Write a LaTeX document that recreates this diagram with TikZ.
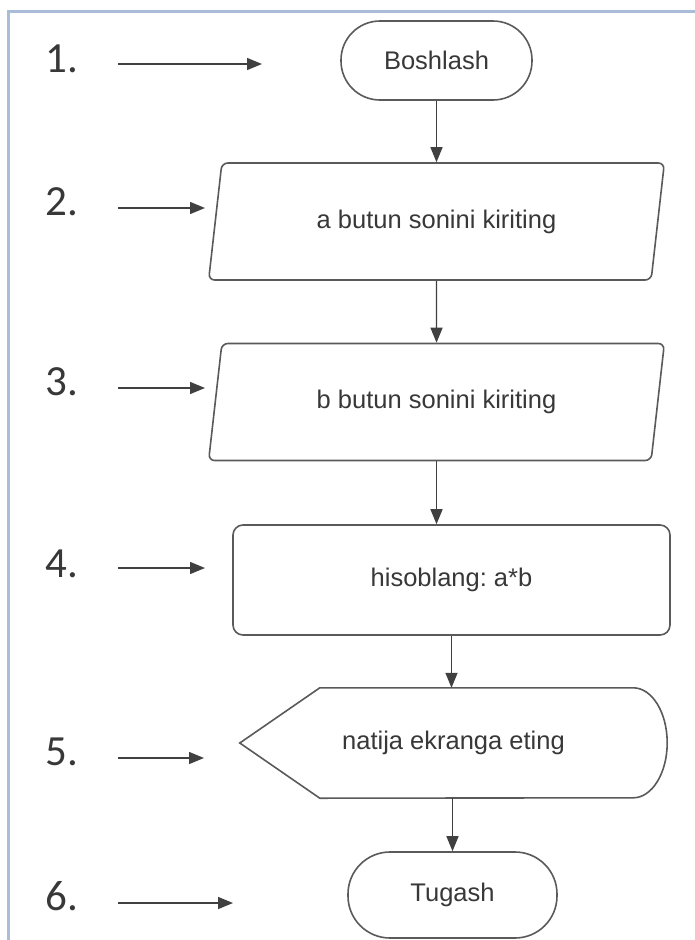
\documentclass[tikz,border=0pt]{standalone}
\usepackage{fontspec}
\setmainfont{Liberation Sans}
\newfontfamily\numfont{Carlito}
\usetikzlibrary{shapes.geometric,arrows.meta}
\frenchspacing

\definecolor{edgegray}{HTML}{5A5A5A}
\definecolor{textgray}{HTML}{383838}
\definecolor{framebl}{HTML}{A9BDD8}

\tikzset{
  flowtext/.style={font=\fontsize{25.5}{30}\selectfont, text=textgray},
  shapeline/.style={draw=edgegray, line width=1.6pt},
  terminal/.style={flowtext, shapeline, rounded corners=39pt, minimum width=191pt, minimum height=79pt},
  inputbox/.style={flowtext, shapeline, trapezium, trapezium left angle=76, trapezium right angle=104,
    trapezium stretches=true, rounded corners=6pt, minimum width=457pt, minimum height=117pt},
  processbox/.style={flowtext, shapeline, rounded corners=10pt, minimum width=437pt, minimum height=110pt},
  stepnum/.style={font=\numfont\fontsize{43}{48}\selectfont, text=textgray, anchor=base west, inner sep=0pt},
  flow/.style={-{Triangle[length=15pt,width=12pt]}, line width=1.4pt, draw=black!75},
}

\begin{document}
\begin{tikzpicture}[x=1pt, y=-1pt]
  \useasboundingbox (0,0) rectangle (694,940);
  \fill[white] (0,0) rectangle (694,940);
  \draw[framebl, line width=3pt] (8,950) -- (8,11) -- (700,11);

  % step numbers and their pointers
  \foreach \n/\b in {1/72, 2/215, 3/395, 4/577, 5/765, 6/910}
    \node[stepnum] (l\n) at (45,\b) {\n.};
  \foreach \n/\y/\x in {1/64/262, 2/208/205, 3/388/205, 4/568/205, 5/758/204, 6/903/233} {
    \coordinate (s\n) at (118,\y);
    \coordinate (e\n) at (\x,\y);
    \draw[flow] (s\n) -- (e\n);
  }

  % flowchart
  \node[terminal] (start) at (436.5,60.5) {Boshlash};
  \node[inputbox] (inpa) at (436.5,221.5) {a butun sonini kiriting};
  \node[inputbox] (inpb) at (436.5,402) {b butun sonini kiriting};
  \node[processbox] (calc) at (451.5,580) {hisoblang: a*b};
  \node[flowtext, minimum width=427pt, minimum height=110pt] (outp) at (453.5,743) {natija ekranga eting};
  \draw[shapeline] (outp.west) -- ([xshift=80pt]outp.north west) -- ([xshift=-34pt]outp.north east)
    arc[start angle=90, end angle=-90, x radius=34pt, y radius=55pt]
    -- ([xshift=80pt]outp.south west) -- cycle;
  \node[terminal, rounded corners=42pt, minimum width=209pt, minimum height=86pt] (stop) at (452.5,895) {Tugash};

  \draw[flow] (start) -- (inpa);
  \draw[flow] (inpa) -- (inpb);
  \draw[flow] (inpb.south) -- (inpb.south |- calc.north);
  \draw[flow] (calc.south) -- (calc.south |- outp.north);
  \draw[flow] (stop.north |- outp.south) -- (stop.north);
\end{tikzpicture}
\end{document}
